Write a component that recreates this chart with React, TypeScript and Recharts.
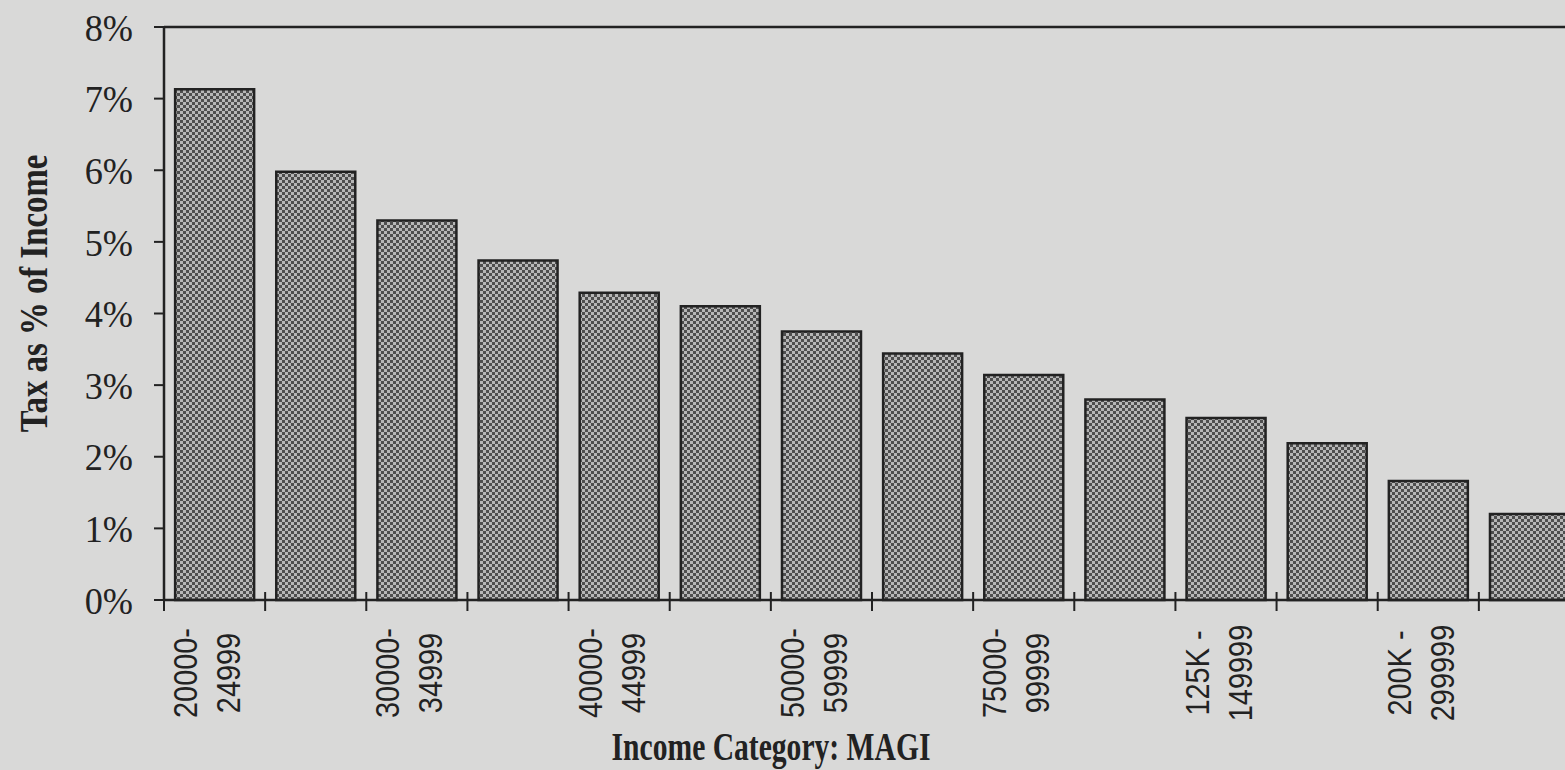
import React from "react";
import { BarChart, Bar, XAxis, YAxis, ReferenceLine } from "recharts";

// ---- data ----
const CATEGORIES = [
  "20000-24999",
  "25000-29999",
  "30000-34999",
  "35000-39999",
  "40000-44999",
  "45000-49999",
  "50000-59999",
  "60000-74999",
  "75000-99999",
  "100K-124999",
  "125K-149999",
  "150K-199999",
  "200K-299999",
  "300K+",
];
const TAX_PCT = [7.13, 5.98, 5.3, 4.74, 4.29, 4.1, 3.75, 3.44, 3.14, 2.8, 2.54, 2.19, 1.66, 1.2];
const TICK_LINE1 = ["20000-", "", "30000-", "", "40000-", "", "50000-", "", "75000-", "", "125K -", "", "200K -", ""];
const TICK_LINE2 = ["24999", "", "34999", "", "44999", "", "59999", "", "99999", "", "149999", "", "299999", ""];
const Y_TICKS = [0, 1, 2, 3, 4, 5, 6, 7, 8];
const Y_TITLE = "Tax as % of Income";
const X_TITLE = "Income Category: MAGI";

const data = CATEGORIES.map((c, i) => ({ cat: c, v: TAX_PCT[i] }));

// ---- layout / style ----
const W = 1580;
const H = 770;
const Y_AXIS_W = 164;
const X_AXIS_H = 170;
const TOP = 27;
const PLOT_W = W - Y_AXIS_W;
const INK = "#222";
const BG = "#d9d9d8";

const XTick = (props: any) => {
  const { x, y, index } = props;
  const band = PLOT_W / CATEGORIES.length;
  const left = x - band / 2;
  const l1 = TICK_LINE1[index];
  const l2 = TICK_LINE2[index];
  return (
    <g>
      <line x1={left} x2={left} y1={y - 8} y2={y + 11} stroke={INK} strokeWidth={2} />
      {l1 ? (
        <g transform={`translate(${x},${y + 73}) rotate(-90) scale(0.85,1)`}>
          <text x={0} y={-17.5} textAnchor="middle" fontFamily="'Liberation Sans', Arial, sans-serif" fontSize={34} fill={INK}>
            {l1}
          </text>
          <text x={0} y={25.5} textAnchor="middle" fontFamily="'Liberation Sans', Arial, sans-serif" fontSize={34} fill={INK}>
            {l2}
          </text>
        </g>
      ) : null}
    </g>
  );
};

const YTick = (props: any) => {
  const { x, y, payload } = props;
  return (
    <g transform={`translate(${x},${y}) scale(0.93,1)`}>
      <text x={0} y={0} dy="0.35em" textAnchor="end" fontFamily="'Liberation Serif', 'Times New Roman', serif" fontSize={39} fill={INK}>
        {`${payload.value}%`}
      </text>
    </g>
  );
};

const YTitle = (props: any) => {
  const vb = props.viewBox || { x: 0, y: TOP, width: Y_AXIS_W, height: H - TOP - X_AXIS_H };
  const cx = vb.x + 47;
  const cy = vb.y + vb.height / 2 - 20;
  return (
    <g transform={`translate(${cx},${cy}) rotate(-90) scale(0.82,1)`}>
      <text x={0} y={0} textAnchor="middle" fontFamily="'Liberation Serif', 'Times New Roman', serif" fontWeight="bold" fontSize={40} fill={INK}>
        {Y_TITLE}
      </text>
    </g>
  );
};

const XTitle = (props: any) => {
  const vb = props.viewBox || { x: Y_AXIS_W, y: H - X_AXIS_H, width: PLOT_W, height: X_AXIS_H };
  const cx = vb.x + 607;
  const cy = vb.y + 160;
  return (
    <g transform={`translate(${cx},${cy}) scale(0.74,1)`}>
      <text x={0} y={0} textAnchor="middle" fontFamily="'Liberation Serif', 'Times New Roman', serif" fontWeight="bold" fontSize={40} fill={INK}>
        {X_TITLE}
      </text>
    </g>
  );
};

export default function App() {
  return (
    <div
      style={{
        position: "fixed",
        left: 0,
        top: 0,
        width: 1565,
        height: 770,
        overflow: "hidden",
        background: BG,
      }}
    >
      <BarChart
        width={W}
        height={H}
        data={data}
        margin={{ top: TOP, right: 0, bottom: 0, left: 0 }}
        barCategoryGap="11%"
      >
        <defs>
          <pattern id="stipple" width="6" height="6" patternUnits="userSpaceOnUse">
            <rect width="6" height="6" fill="#b6b6b6" />
            <rect width="3" height="3" fill="#4e4e4e" />
            <rect x="3" y="3" width="3" height="3" fill="#4e4e4e" />
          </pattern>
        </defs>
        <XAxis
          dataKey="cat"
          interval={0}
          height={X_AXIS_H}
          tickLine={false}
          tickSize={0}
          tickMargin={0}
          axisLine={{ stroke: INK, strokeWidth: 2.5 }}
          tick={<XTick />}
          label={{ content: <XTitle /> }}
        />
        <YAxis
          width={Y_AXIS_W}
          domain={[0, 8]}
          ticks={Y_TICKS}
          interval={0}
          tickSize={10}
          tickMargin={21}
          tickLine={{ stroke: INK, strokeWidth: 2 }}
          axisLine={{ stroke: INK, strokeWidth: 2.5 }}
          tick={<YTick />}
          label={{ content: <YTitle /> }}
        />
        <ReferenceLine y={8} stroke={INK} strokeWidth={2.5} />
        <Bar dataKey="v" fill="url(#stipple)" stroke={INK} strokeWidth={2.5} isAnimationActive={false} />
      </BarChart>
    </div>
  );
}
